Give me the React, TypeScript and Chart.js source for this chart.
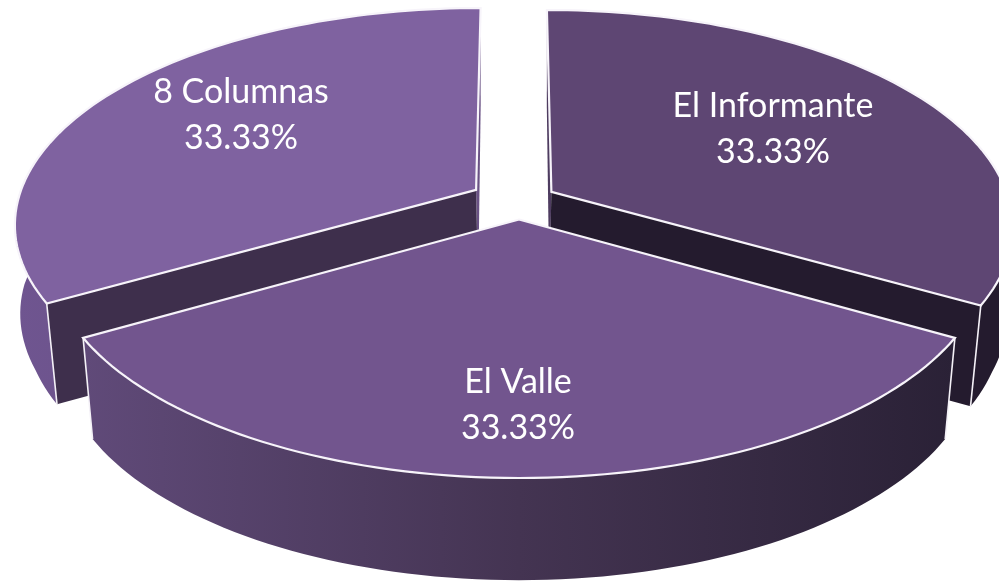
import React, { useEffect, useRef } from "react";
import { Chart, registerables } from "chart.js";

Chart.register(...registerables);

const categories = ["El Informante", "El Valle", "8 Columnas"];
const shares = [33.33, 33.33, 33.33];
const topColors = ["#5e4673", "#72558e", "#7f62a0"];
const cutColors = ["#241b2e", "#2a2136", "#3e2f4c"];
const labelAnchors = [
  [773, 106],
  [518, 382],
  [241, 92],
];
const sliceNudges = [
  [3.5, 0],
  [5, 0],
  [-4, -2],
];

const CX = 514;
const CY = 201;
const A = 458;
const B = 212.5;
const P = 0.1537;
const EXPLODE = 0.086;

type Pt = [number, number];

function project(x: number, y: number, n: number[]): Pt {
  const w = 1 - P * y;
  return [CX + (A * x) / w + n[0], CY + (B * y) / w + n[1]];
}
function drop(p: Pt, y: number): Pt {
  const inward = Math.min(0.022, Math.max(0.002, 0.004 + 0.05 * (y + 0.04)));
  return [CX + (p[0] - CX) * (1 - inward), p[1] + 100 + 2 * y];
}
function fillPoly(ctx: CanvasRenderingContext2D, pts: Pt[], fill: string | CanvasGradient) {
  ctx.beginPath();
  pts.forEach((p, i) => (i ? ctx.lineTo(p[0], p[1]) : ctx.moveTo(p[0], p[1])));
  ctx.closePath();
  ctx.fillStyle = fill;
  ctx.fill();
}

const pie3d = {
  id: "pie3d",
  afterDatasetsDraw(chart: any) {
    const ctx: CanvasRenderingContext2D = chart.ctx;
    const arcs = chart.getDatasetMeta(0).data;
    const order = [2, 0, 1];
    ctx.save();
    for (const i of order) {
      const arc = arcs[i];
      const { startAngle, endAngle } = arc.getProps(["startAngle", "endAngle"], true);
      const mid = (startAngle + endAngle) / 2;
      const ox = EXPLODE * Math.cos(mid);
      const oy = EXPLODE * Math.sin(mid);
      const n = sliceNudges[i];
      const rim: Pt[] = [];
      const rimY: number[] = [];
      const steps = 80;
      for (let s = 0; s <= steps; s++) {
        const t = startAngle + ((endAngle - startAngle) * s) / steps;
        const y = oy + Math.sin(t);
        rim.push(project(ox + Math.cos(t), y, n));
        rimY.push(y);
      }
      const apex = project(ox, oy, n);
      const lower = rim.map((p, k) => drop(p, rimY[k]));
      const apexLow: Pt = [apex[0] + (i === 2 ? 2 : i === 0 ? -2 : 0), apex[1] + 100];
      const last = rim.length - 1;

      // hidden-side cut faces sit behind everything else of the slice
      if (i === 2) fillPoly(ctx, [apex, rim[last], lower[last], apexLow], "#6a5285");
      if (i === 0) fillPoly(ctx, [apex, rim[0], lower[0], apexLow], "#4e3c60");

      // outer wall
      const xs = rim.map((p) => p[0]).concat(lower.map((p) => p[0]));
      const g = ctx.createLinearGradient(Math.min(...xs), 0, Math.max(...xs), 0);
      if (i === 1) {
        g.addColorStop(0, "#604a79");
        g.addColorStop(0.5, "#443452");
        g.addColorStop(1, "#2a2136");
      } else if (i === 0) {
        g.addColorStop(0, "#241b2e");
        g.addColorStop(1, "#241b2e");
      } else {
        g.addColorStop(0, "#6f5590");
        g.addColorStop(1, "#5f4a78");
      }
      const front = rim.map((_, k) => k).filter((k) => rimY[k] > -0.2);
      fillPoly(ctx, front.map((k) => rim[k]).concat(front.map((k) => lower[k]).reverse()), g);

      // visible radial cut face
      if (i === 2) fillPoly(ctx, [apex, rim[0], lower[0], apexLow], cutColors[2]);
      if (i === 0) fillPoly(ctx, [apex, rim[last], lower[last], apexLow], cutColors[0]);

      // corner edges
      ctx.strokeStyle = "#f4f1f7";
      ctx.lineWidth = 1.6;
      const corners = i === 1 ? [0, last] : i === 0 ? [last] : [0];
      for (const c of corners) {
        ctx.beginPath();
        ctx.moveTo(rim[c][0], rim[c][1]);
        ctx.lineTo(lower[c][0], lower[c][1]);
        ctx.stroke();
      }

      // top face
      fillPoly(ctx, [apex].concat(rim), topColors[i]);
      ctx.beginPath();
      ctx.moveTo(apex[0], apex[1]);
      rim.forEach((p) => ctx.lineTo(p[0], p[1]));
      ctx.closePath();
      ctx.strokeStyle = "#f7f4fa";
      ctx.lineWidth = 2.2;
      ctx.lineJoin = "miter";
      ctx.stroke();
    }

    // labels
    ctx.fillStyle = "#ffffff";
    ctx.font = '34px Lato, "Open Sans", sans-serif';
    ctx.textAlign = "center";
    ctx.textBaseline = "middle";
    chart.data.labels.forEach((name: string, i: number) => {
      const [lx, ly] = labelAnchors[i];
      ctx.fillText(name, lx, ly);
      ctx.fillText(chart.data.datasets[0].data[i].toFixed(2) + "%", lx, ly + 46);
    });
    ctx.restore();
  },
};

export default function App() {
  const ref = useRef<HTMLCanvasElement | null>(null);
  useEffect(() => {
    document.body.style.margin = "0";
    document.body.style.background = "#ffffff";
    const chart = new Chart(ref.current!, {
      type: "pie",
      data: {
        labels: categories,
        datasets: [{ data: shares, backgroundColor: "rgba(0,0,0,0)", borderWidth: 0 }],
      },
      options: {
        animation: false,
        responsive: false,
        plugins: { legend: { display: false }, tooltip: { enabled: false } },
      },
      plugins: [pie3d],
    } as any);
    return () => chart.destroy();
  }, []);
  return <canvas ref={ref} width={999} height={583} style={{ display: "block" }} />;
}
